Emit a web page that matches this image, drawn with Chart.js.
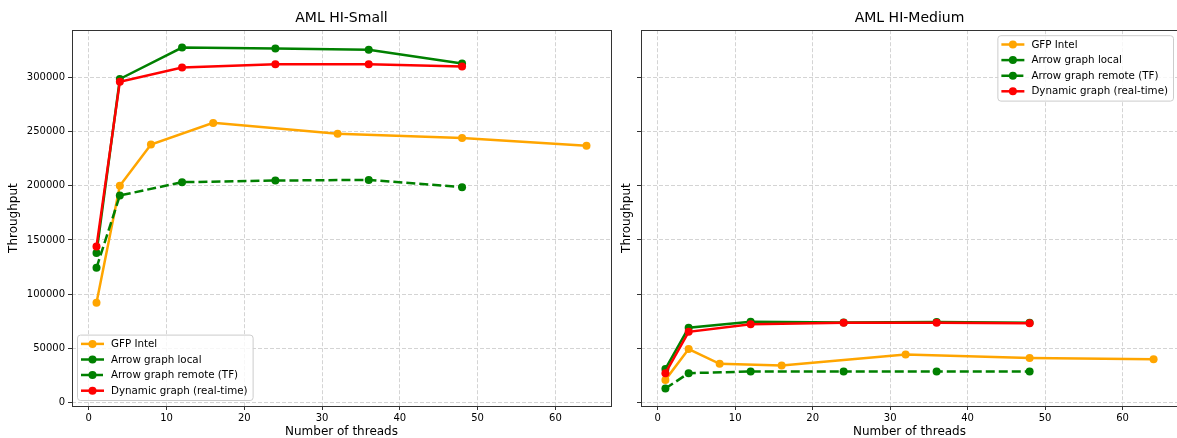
<!DOCTYPE html>
<html>
<head>
<meta charset="utf-8">
<script src="https://cdn.jsdelivr.net/npm/chart.js@4/dist/chart.umd.min.js"></script>
<style>
  html, body { margin: 0; padding: 0; background: #fff; overflow: hidden; }
  #wrap { position: relative; width: 1177px; height: 438px; overflow: hidden; }
  canvas { position: absolute; top: 0; }
</style>
</head>
<body>
<div id="wrap">
  <canvas id="small" width="620" height="438" style="left:0"></canvas>
  <canvas id="medium" width="562" height="438" style="left:620px"></canvas>
</div>
<script>
// thread counts
const gfpThreads = [1, 4, 8, 16, 32, 48, 64];
const arrowThreads = [1, 4, 12, 24, 36, 48];

// AML HI-Small
const smallGfp = [92000, 200000, 238000, 258000, 248000, 244000, 237000];
const smallLocal = [138000, 298500, 327500, 326700, 325500, 312700];
const smallRemote = [124300, 191000, 203300, 204800, 205400, 198700];
const smallDynamic = [144000, 296000, 309000, 312000, 312000, 310000];

// AML HI-Medium
const medGfp = [20900, 49300, 35700, 34100, 44300, 41000, 40000];
const medLocal = [31000, 69000, 74500, 73800, 74300, 73500];
const medRemote = [12900, 27100, 28600, 28600, 28600, 28600];
const medDynamic = [27100, 65200, 72300, 73500, 73500, 73200];

const xTicks = [0, 10, 20, 30, 40, 50, 60];
const yTicks = [0, 50000, 100000, 150000, 200000, 250000, 300000];
const seriesNames = ['GFP Intel', 'Arrow graph local', 'Arrow graph remote (TF)', 'Dynamic graph (real-time)'];
const seriesColors = ['#ffa500', '#008000', '#008000', '#ff0000'];
const seriesDash = [[], [], [9, 4], []];

const FONT = '"DejaVu Sans", sans-serif';

function pts(xs, ys) {
  return xs.map((x, i) => ({ x: x, y: ys[i] }));
}

function makeSets(gfp, local, remote, dyn) {
  const all = [pts(gfpThreads, gfp), pts(arrowThreads, local), pts(arrowThreads, remote), pts(arrowThreads, dyn)];
  return all.map((d, i) => ({
    label: seriesNames[i],
    data: d,
    borderColor: seriesColors[i],
    backgroundColor: seriesColors[i],
    borderDash: seriesDash[i],
    borderWidth: 2.5,
    pointRadius: 4,
    pointHoverRadius: 4,
    pointBorderWidth: 0,
    tension: 0,
    order: 3 - i
  }));
}

// axes frame like matplotlib spines
const frame = {
  id: 'frame',
  afterDatasetsDraw(chart) {
    const a = chart.chartArea, ctx = chart.ctx;
    ctx.save();
    ctx.strokeStyle = '#333';
    ctx.lineWidth = 1;
    ctx.strokeRect(Math.round(a.left) + 0.5, Math.round(a.top) + 0.5,
      Math.round(a.right - a.left), Math.round(a.bottom - a.top));
    ctx.restore();
  }
};

// legend box drawn inside the axes
const legendBox = {
  id: 'legendBox',
  afterDraw(chart, args, opts) {
    const ctx = chart.ctx, a = chart.chartArea;
    const sets = chart.data.datasets;
    ctx.save();
    ctx.font = '10.3px ' + FONT;
    let tw = 0;
    sets.forEach(s => { tw = Math.max(tw, ctx.measureText(s.label).width); });
    const rowH = 15.6;
    const w = 4 + 23 + 7 + tw + 5;
    const h = sets.length * rowH + 3;
    const x = opts.corner === 'lowerLeft' ? a.left + 5 : a.right - 5 - w;
    const y = opts.corner === 'lowerLeft' ? a.bottom - 6 - h : a.top + 5;
    ctx.fillStyle = 'rgba(255,255,255,0.8)';
    ctx.strokeStyle = '#cccccc';
    ctx.lineWidth = 1;
    ctx.beginPath();
    ctx.roundRect(x + 0.5, y + 0.5, w, h, 3);
    ctx.fill();
    ctx.stroke();
    sets.forEach((s, i) => {
      const cy = y + 1.5 + rowH / 2 + i * rowH;
      ctx.strokeStyle = s.borderColor;
      ctx.lineWidth = s.borderWidth;
      ctx.setLineDash(s.borderDash);
      ctx.beginPath();
      ctx.moveTo(x + 4, cy);
      ctx.lineTo(x + 27, cy);
      ctx.stroke();
      ctx.setLineDash([]);
      ctx.fillStyle = s.backgroundColor;
      ctx.beginPath();
      ctx.arc(x + 15.5, cy, 4, 0, Math.PI * 2);
      ctx.fill();
      ctx.fillStyle = '#000';
      ctx.textBaseline = 'middle';
      ctx.textAlign = 'left';
      ctx.fillText(s.label, x + 34, cy + 0.5);
    });
    ctx.restore();
  }
};

function createChart(id, title, sets, yWidth, showYLabels, padRight, corner, yTitlePad) {
  return new Chart(document.getElementById(id), {
    type: 'line',
    data: { datasets: sets },
    plugins: [frame, legendBox],
    options: {
      responsive: false,
      animation: false,
      layout: { padding: { left: 0, right: padRight, top: 0, bottom: 0 } },
      plugins: {
        legend: { display: false },
        tooltip: { enabled: false },
        legendBox: { corner: corner },
        title: {
          display: true,
          text: title,
          fullSize: false,
          color: '#000',
          font: { family: FONT, size: 14, weight: 'normal', lineHeight: 1.2 },
          padding: { top: 10, bottom: 3.4 }
        }
      },
      scales: {
        x: {
          type: 'linear',
          min: -2.15,
          max: 67.15,
          afterBuildTicks: s => { s.ticks = xTicks.map(v => ({ value: v })); },
          afterFit: s => { s.height = 32; },
          border: { display: false, dash: [4, 2] },
          grid: {
            color: '#d4d4d4',
            tickColor: '#333',
            tickBorderDash: [],
            tickLength: 4,
            tickWidth: 1
          },
          ticks: { color: '#000', font: { family: FONT, size: 10 }, padding: 2, maxRotation: 0 },
          title: {
            display: true,
            text: 'Number of threads',
            color: '#000',
            font: { family: FONT, size: 12, lineHeight: 1 },
            padding: { top: 0, bottom: 0 }
          }
        },
        y: {
          type: 'linear',
          min: -3200,
          max: 343500,
          afterBuildTicks: s => { s.ticks = yTicks.map(v => ({ value: v })); },
          afterFit: s => { s.width = yWidth; },
          border: { display: false, dash: [4, 2] },
          grid: {
            color: '#d4d4d4',
            tickColor: '#333',
            tickBorderDash: [],
            tickLength: 4,
            tickWidth: 1
          },
          ticks: {
            display: showYLabels,
            color: '#000',
            font: { family: FONT, size: 10 },
            padding: 3,
            callback: v => String(v)
          },
          title: {
            display: true,
            text: 'Throughput',
            color: '#000',
            font: { family: FONT, size: 12, lineHeight: 1.2 },
            padding: { top: yTitlePad, bottom: 0 }
          }
        }
      }
    }
  });
}

createChart('small', 'AML HI-Small', makeSets(smallGfp, smallLocal, smallRemote, smallDynamic), 72, true, 9, 'lowerLeft', 7);
createChart('medium', 'AML HI-Medium', makeSets(medGfp, medLocal, medRemote, medDynamic), 21, false, 2, 'upperRight', 0);
</script>
</body>
</html>
